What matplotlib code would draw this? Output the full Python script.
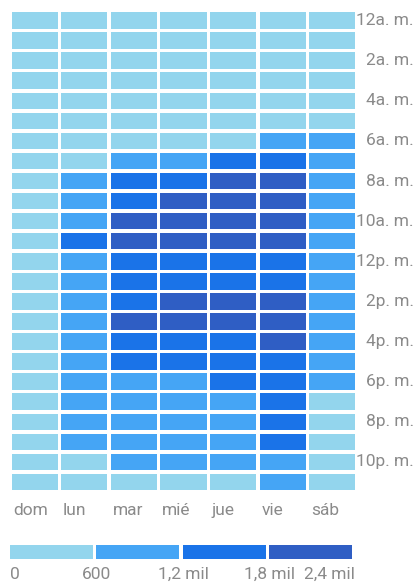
import numpy as np
import matplotlib
matplotlib.use("Agg")
import matplotlib.pyplot as plt
from matplotlib.colors import ListedColormap, BoundaryNorm

plt.rcParams["font.family"] = ["Roboto", "DejaVu Sans"]

# Data (users per hour and weekday)
days = ["dom", "lun", "mar", "mié", "jue", "vie", "sáb"]
hour_labels = ["12a. m.", "2a. m.", "4a. m.", "6a. m.", "8a. m.", "10a. m.",
               "12p. m.", "2p. m.", "4p. m.", "6p. m.", "8p. m.", "10p. m."]
values = [
    [250, 310, 280, 290, 300, 340, 330],
    [180, 220, 200, 210, 220, 250, 260],
    [130, 150, 140, 150, 160, 180, 200],
    [110, 120, 120, 130, 130, 150, 160],
    [120, 150, 160, 170, 170, 190, 180],
    [200, 330, 350, 360, 380, 420, 330],
    [330, 520, 560, 570, 590, 640, 620],
    [420, 580, 900, 980, 1250, 1300, 820],
    [480, 1050, 1550, 1700, 1900, 1950, 950],
    [520, 1100, 1750, 1850, 2000, 2050, 1000],
    [540, 1150, 1850, 1950, 2100, 2150, 1050],
    [560, 1250, 1900, 2000, 2050, 2100, 1080],
    [550, 1150, 1700, 1750, 1750, 1750, 1050],
    [540, 1150, 1650, 1700, 1700, 1700, 1000],
    [560, 1180, 1750, 1850, 1900, 1900, 1020],
    [570, 1190, 1850, 1900, 1950, 1950, 1030],
    [560, 1150, 1700, 1750, 1750, 1850, 1000],
    [550, 1100, 1600, 1650, 1700, 1750, 950],
    [520, 1000, 1150, 1180, 1300, 1400, 900],
    [480, 950, 1050, 1100, 1150, 1300, 580],
    [450, 950, 1000, 1050, 1100, 1250, 550],
    [420, 900, 950, 1000, 1050, 1250, 520],
    [380, 580, 800, 850, 900, 1100, 480],
    [300, 450, 500, 520, 550, 700, 400],
]
bounds = [0, 600, 1200, 1800, 2400]
bound_labels = ["0", "600", "1,2 mil", "1,8 mil", "2,4 mil"]
colors = ["#93D5ED", "#45A5F5", "#1A73E8", "#2F5EC4"]

vals = np.array(values)
cmap = ListedColormap(colors)
norm = BoundaryNorm(bounds, cmap.N)
grey = "#8A8A8A"

W, H = 417, 582
fig = plt.figure(figsize=(W / 100, H / 100), dpi=100)

# heatmap
ax = fig.add_axes([10 / W, 1 - 492 / H, 347 / W, 481.5 / H])
hours = np.arange(24)
for j in range(len(days)):
    ax.bar(np.full(24, j), 0.82, bottom=hours - 0.41, width=0.93,
           color=cmap(norm(vals[:, j])), linewidth=0)
ax.set_xlim(-0.5, 6.5)
ax.set_ylim(23.5, -0.5)
for s in ax.spines.values():
    s.set_visible(False)
ax.set_yticks([])
ax.set_xticks(np.arange(7) - 0.43)
ax.set_xticklabels(days, ha="left", fontsize=12.5, color=grey)
ax.tick_params(axis="x", length=0, pad=8)

for k, lab in enumerate(hour_labels):
    ax.text(1.164, 2 * k, lab, transform=ax.get_yaxis_transform(),
            ha="right", va="center", fontsize=12.5, color=grey)

# legend bar
lax = fig.add_axes([10 / W, 1 - 559 / H, 342 / W, 14 / H])
gap = 28
seg = (bounds[-1] - bounds[0] - 3 * gap) / 4
for i in range(4):
    lax.barh(0, seg, left=bounds[0] + i * (seg + gap), height=1,
             color=colors[i], linewidth=0)
lax.set_xlim(bounds[0], bounds[-1])
lax.set_ylim(-0.5, 0.5)
lax.axis("off")
last = len(bounds) - 1
for i, lab in enumerate(bound_labels):
    if i == 0:
        x, ha = bounds[0], "left"
    elif i == last:
        x, ha = bounds[-1] + 20, "right"
    else:
        x, ha = bounds[0] + i * (seg + gap), "center"
    lax.text(x, -0.55, lab, transform=lax.get_xaxis_transform(), ha=ha,
             va="top", fontsize=12.5, color=grey)

fig.savefig("out.png", dpi=100)
